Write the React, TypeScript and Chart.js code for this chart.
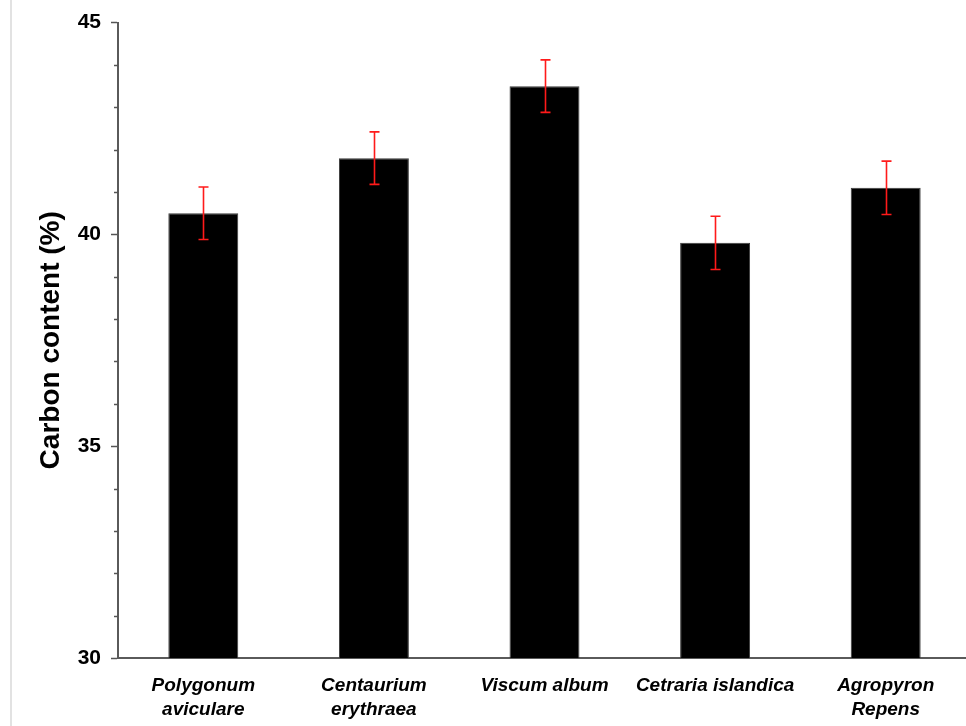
import React, { useEffect, useRef } from "react";
import { Chart, registerables } from "chart.js";

Chart.register(...registerables);

// Species sampled and their mean carbon content (%) with standard error
const species: (string | string[])[] = [
  ["Polygonum", "aviculare"],
  ["Centaurium", "erythraea"],
  "Viscum album",
  "Cetraria islandica",
  ["Agropyron", "Repens"],
];
const carbonContent = [40.5, 41.8, 43.5, 39.8, 41.1];
const carbonError = [0.62, 0.62, 0.62, 0.63, 0.63];
const yMin = 30;
const yMax = 45;
const yMajorStep = 5;
const yMinorStep = 1;

const FONT = "Arial, 'Liberation Sans', Helvetica, sans-serif";

// Short outward ticks at every unit between the labelled ones
const minorTicks = {
  id: "minorTicks",
  afterDraw(chart: any) {
    const y = chart.scales.y;
    const ctx = chart.ctx;
    const x0 = chart.chartArea.left;
    ctx.save();
    ctx.strokeStyle = "#555";
    ctx.lineWidth = 1.5;
    for (let v = yMin + yMinorStep; v < yMax; v += yMinorStep) {
      if (v % yMajorStep === 0) continue;
      const py = Math.round(y.getPixelForValue(v)) + 0.5;
      ctx.beginPath();
      ctx.moveTo(x0 - 4, py);
      ctx.lineTo(x0, py);
      ctx.stroke();
    }
    ctx.restore();
  },
};

// Red whiskers showing ± error on each bar
const errorBars = {
  id: "errorBars",
  afterDatasetsDraw(chart: any) {
    const meta = chart.getDatasetMeta(0);
    const y = chart.scales.y;
    const ctx = chart.ctx;
    ctx.save();
    ctx.strokeStyle = "#ff1a1a";
    ctx.lineWidth = 1.6;
    meta.data.forEach((bar: any, i: number) => {
      const v = carbonContent[i];
      const e = carbonError[i];
      const x = Math.round(bar.x) + 0.5;
      const top = y.getPixelForValue(v + e);
      const bot = y.getPixelForValue(v - e);
      ctx.beginPath();
      ctx.moveTo(x, top);
      ctx.lineTo(x, bot);
      ctx.moveTo(x - 5, top);
      ctx.lineTo(x + 5, top);
      ctx.moveTo(x - 5, bot);
      ctx.lineTo(x + 5, bot);
      ctx.stroke();
    });
    ctx.restore();
  },
};

// Thin grey frame edge along the left of the figure
const frameEdge = {
  id: "frameEdge",
  beforeDraw(chart: any) {
    const ctx = chart.ctx;
    ctx.save();
    ctx.fillStyle = "#ffffff";
    ctx.fillRect(0, 0, chart.width, chart.height);
    ctx.strokeStyle = "#e2e2e2";
    ctx.lineWidth = 2;
    ctx.beginPath();
    ctx.moveTo(11, 0);
    ctx.lineTo(11, chart.height);
    ctx.stroke();
    ctx.restore();
  },
};

export default function App() {
  const ref = useRef<HTMLCanvasElement | null>(null);

  useEffect(() => {
    if (!ref.current) return;
    const chart = new Chart(ref.current, {
      type: "bar",
      data: {
        labels: species,
        datasets: [
          {
            data: carbonContent,
            backgroundColor: "#000000",
            borderColor: "#3a3a3a",
            borderWidth: 1,
            barPercentage: 0.41,
            categoryPercentage: 1,
          },
        ],
      },
      options: {
        responsive: false,
        animation: false,
        layout: { padding: { top: 18, right: 9, bottom: 0, left: 0 } },
        plugins: {
          legend: { display: false },
          tooltip: { enabled: false },
        },
        scales: {
          x: {
            grid: { display: false, drawTicks: false },
            border: { display: true, color: "#5a5a5a", width: 2 },
            ticks: {
              color: "#000",
              padding: 15,
              maxRotation: 0,
              autoSkip: false,
              font: { family: FONT, size: 19, weight: "bold", style: "italic", lineHeight: 1.3 },
            },
            afterFit(scale: any) {
              scale.height = 68;
            },
          },
          y: {
            min: yMin,
            max: yMax,
            grid: {
              drawOnChartArea: false,
              drawTicks: true,
              tickLength: 7,
              tickColor: "#555",
              tickWidth: 1.5,
            },
            border: { display: true, color: "#5a5a5a", width: 2 },
            ticks: {
              stepSize: yMajorStep,
              color: "#000",
              padding: 10,
              font: { family: FONT, size: 21, weight: "bold" },
            },
            title: {
              display: true,
              text: "Carbon content (%)",
              color: "#000",
              padding: { top: 34, bottom: 0 },
              font: { family: FONT, size: 28, weight: "bold" },
            },
            afterFit(scale: any) {
              scale.width = 118;
            },
          },
        },
      },
      plugins: [frameEdge, minorTicks, errorBars],
    });
    return () => chart.destroy();
  }, []);

  return (
    <div
      style={{
        position: "fixed",
        left: 0,
        top: 0,
        width: 966,
        height: 726,
        overflow: "hidden",
        background: "#fff",
      }}
    >
      <canvas ref={ref} width={980} height={726} style={{ display: "block" }} />
    </div>
  );
}
